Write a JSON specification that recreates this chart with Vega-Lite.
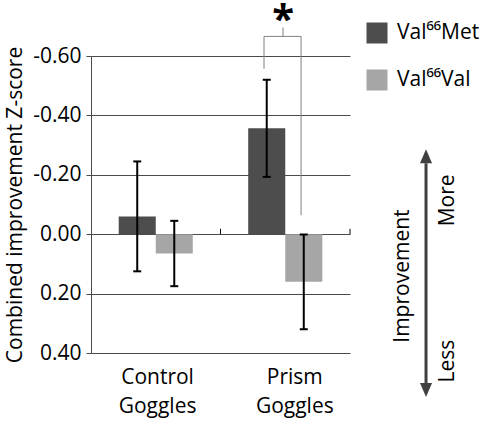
{
  "$schema": "https://vega.github.io/schema/vega-lite/v6.json",
  "width": 259,
  "height": 297,
  "autosize": {"type": "none"},
  "padding": {"left": 91, "top": 56, "right": 134, "bottom": 68},
  "background": "white",
  "config": {
    "view": {"stroke": null},
    "font": "Open Sans",
    "axis": {"labelColor": "#000000", "titleColor": "#000000", "labelFont": "Open Sans", "titleFont": "Open Sans"},
    "legend": {"labelFont": "Open Sans"}
  },
  "datasets": {
    "bars": [
      {"group": "Control Goggles", "gene": "Val⁶⁶Met", "x0": 0.214, "x1": 0.5, "xc": 0.357, "mean": -0.06, "lo": -0.245, "hi": 0.125},
      {"group": "Control Goggles", "gene": "Val⁶⁶Val", "x0": 0.5, "x1": 0.786, "xc": 0.643, "mean": 0.065, "lo": -0.045, "hi": 0.175},
      {"group": "Prism Goggles", "gene": "Val⁶⁶Met", "x0": 1.214, "x1": 1.5, "xc": 1.357, "mean": -0.357, "lo": -0.52, "hi": -0.193},
      {"group": "Prism Goggles", "gene": "Val⁶⁶Val", "x0": 1.5, "x1": 1.786, "xc": 1.643, "mean": 0.16, "lo": 0.001, "hi": 0.32}
    ],
    "catticks": [{"x": 1}, {"x": 2}],
    "bracket": [
      {"seg": "a", "order": 1, "x": 1.336, "y": -0.557},
      {"seg": "a", "order": 2, "x": 1.336, "y": -0.666},
      {"seg": "a", "order": 3, "x": 1.622, "y": -0.666},
      {"seg": "a", "order": 4, "x": 1.622, "y": -0.064},
      {"seg": "b", "order": 1, "x": 1.483, "y": -0.666},
      {"seg": "b", "order": 2, "x": 1.483, "y": -0.696}
    ],
    "star": [{"label": "*", "x": 1.483, "y": -0.679}],
    "arrow": [{"x": 2.587, "top": -0.239, "bottom": 0.501}],
    "notes": [
      {"label": "More", "x": 2.757, "y": -0.114},
      {"label": "Improvement", "x": 2.409, "y": 0.141},
      {"label": "Less", "x": 2.757, "y": 0.427}
    ]
  },
  "layer": [
    {
      "data": {"name": "bars"},
      "mark": {"type": "bar"},
      "encoding": {
        "x": {
          "field": "x0", "type": "quantitative",
          "scale": {"domain": [0, 2], "nice": false, "zero": false},
          "axis": {
            "values": [0.51, 1.57],
            "labelExpr": "datum.value < 1 ? ['Control', 'Goggles'] : ['Prism', 'Goggles']",
            "domain": false, "ticks": false, "grid": false,
            "labelFontSize": 21, "labelLineHeight": 29, "labelPadding": 13,
            "labelFlush": false, "labelOverlap": false,
            "title": null
          }
        },
        "x2": {"field": "x1"},
        "y": {
          "field": "mean", "type": "quantitative",
          "scale": {"domain": [-0.6, 0.4], "reverse": true, "nice": false, "zero": false},
          "axis": {
            "values": [-0.6, -0.4, -0.2, 0, 0.2, 0.4],
            "labelExpr": "replace(format(datum.value, '.2f'), '−', '-')",
            "grid": true, "gridColor": "#4a4a4a", "gridWidth": 1,
            "domain": true, "domainColor": "#4a4a4a",
            "ticks": true, "tickSize": 5, "tickColor": "#4a4a4a",
            "labelFontSize": 21, "labelPadding": 5,
            "title": "Combined improvement Z-score",
            "titleFontSize": 21, "titleFontWeight": "normal", "titlePadding": 7
          }
        },
        "y2": {"datum": 0},
        "color": {
          "field": "gene", "type": "nominal",
          "scale": {"domain": ["Val⁶⁶Met", "Val⁶⁶Val"], "range": ["#4d4d4d", "#a6a6a6"]},
          "legend": {
            "title": null, "orient": "none", "legendX": 275, "legendY": -34,
            "symbolType": "square", "symbolSize": 441, "symbolStrokeWidth": 1,
            "labelFontSize": 21, "labelColor": "#000000", "labelOffset": 9,
            "rowPadding": 25, "padding": 0
          }
        }
      }
    },
    {
      "mark": {"type": "rule", "color": "#000000", "strokeWidth": 1},
      "encoding": {"y": {"datum": 0}}
    },
    {
      "data": {"name": "catticks"},
      "mark": {"type": "rule", "color": "#000000", "strokeWidth": 1},
      "encoding": {
        "x": {"field": "x", "type": "quantitative"},
        "y": {"datum": 0},
        "y2": {"datum": -0.018}
      }
    },
    {
      "data": {"name": "bars"},
      "mark": {"type": "rule", "color": "#000000", "strokeWidth": 2},
      "encoding": {
        "x": {"field": "xc", "type": "quantitative"},
        "y": {"field": "lo", "type": "quantitative"},
        "y2": {"field": "hi"}
      }
    },
    {
      "data": {"name": "bars"},
      "mark": {"type": "tick", "orient": "horizontal", "color": "#000000", "size": 8, "thickness": 2, "opacity": 1},
      "encoding": {
        "x": {"field": "xc", "type": "quantitative"},
        "y": {"field": "lo", "type": "quantitative"}
      }
    },
    {
      "data": {"name": "bars"},
      "mark": {"type": "tick", "orient": "horizontal", "color": "#000000", "size": 8, "thickness": 2, "opacity": 1},
      "encoding": {
        "x": {"field": "xc", "type": "quantitative"},
        "y": {"field": "hi", "type": "quantitative"}
      }
    },
    {
      "data": {"name": "bracket"},
      "mark": {"type": "line", "color": "#808080", "strokeWidth": 1, "interpolate": "linear"},
      "encoding": {
        "x": {"field": "x", "type": "quantitative"},
        "y": {"field": "y", "type": "quantitative"},
        "detail": {"field": "seg"},
        "order": {"field": "order"}
      }
    },
    {
      "data": {"name": "star"},
      "mark": {"type": "text", "fontSize": 40, "fontWeight": "bold", "font": "Open Sans", "color": "#000000", "align": "center", "baseline": "alphabetic"},
      "encoding": {
        "x": {"field": "x", "type": "quantitative"},
        "y": {"field": "y", "type": "quantitative"},
        "text": {"field": "label"}
      }
    },
    {
      "data": {"name": "arrow"},
      "mark": {"type": "rule", "color": "#404040", "strokeWidth": 3},
      "encoding": {
        "x": {"field": "x", "type": "quantitative"},
        "y": {"field": "top", "type": "quantitative"},
        "y2": {"field": "bottom"}
      }
    },
    {
      "data": {"name": "arrow"},
      "mark": {"type": "point", "shape": "M 0 -1 L 0.43 0 L -0.43 0 Z", "size": 784, "filled": true, "color": "#404040", "opacity": 1},
      "encoding": {
        "x": {"field": "x", "type": "quantitative"},
        "y": {"field": "top", "type": "quantitative"}
      }
    },
    {
      "data": {"name": "arrow"},
      "mark": {"type": "point", "shape": "M 0 1 L 0.43 0 L -0.43 0 Z", "size": 784, "filled": true, "color": "#404040", "opacity": 1},
      "encoding": {
        "x": {"field": "x", "type": "quantitative"},
        "y": {"field": "bottom", "type": "quantitative"}
      }
    },
    {
      "data": {"name": "notes"},
      "mark": {"type": "text", "fontSize": 21, "font": "Open Sans", "color": "#000000", "angle": 270, "align": "center", "baseline": "middle"},
      "encoding": {
        "x": {"field": "x", "type": "quantitative"},
        "y": {"field": "y", "type": "quantitative"},
        "text": {"field": "label"}
      }
    }
  ]
}
